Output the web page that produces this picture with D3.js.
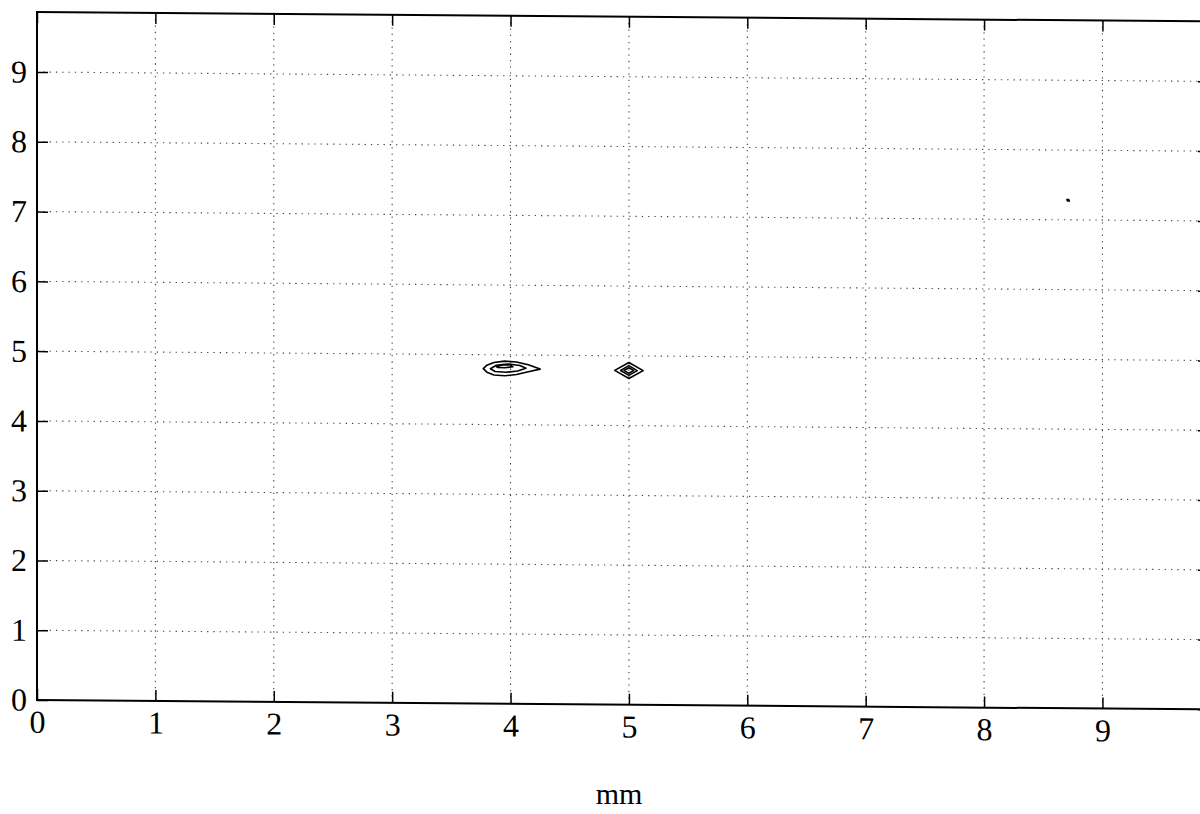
<!DOCTYPE html>
<html>
<head>
<meta charset="utf-8">
<script src="https://cdn.jsdelivr.net/npm/d3@7"></script>
<style>
  html, body { margin: 0; padding: 0; background: #fff; }
  svg { display: block; }
</style>
</head>
<body>
<svg id="chart" width="1200" height="814"></svg>
<script>
(function(){
'use strict';
/* globals d3 */

// axis ticks
var xTicks = [0, 1, 2, 3, 4, 5, 6, 7, 8, 9];
var yTicks = [0, 1, 2, 3, 4, 5, 6, 7, 8, 9];
var xLabel = 'mm';

// contour rings, [x (mm), y]
var blobLeftOuter = [[3.77, 4.80], [3.80, 4.85], [3.86, 4.89], [3.95, 4.91], [4.05, 4.90],
    [4.15, 4.86], [4.25, 4.80], [4.15, 4.76], [4.05, 4.72], [3.95, 4.70], [3.86, 4.71], [3.80, 4.75]];
var blobLeftMid = [[3.83, 4.80], [3.88, 4.85], [3.98, 4.87], [4.08, 4.85], [4.13, 4.81],
    [4.06, 4.77], [3.96, 4.75], [3.87, 4.76]];
var blobLeftInner = [[3.88, 4.83], [3.93, 4.86], [4.00, 4.855], [4.02, 4.83], [3.95, 4.815], [3.89, 4.82]];
var blobRightOuter = [[4.88, 4.79], [5.00, 4.905], [5.12, 4.79], [5.00, 4.675]];
var blobRightMid = [[4.93, 4.79], [5.00, 4.86], [5.07, 4.79], [5.00, 4.72]];
var blobRightInner = [[4.96, 4.79], [5.00, 4.83], [5.04, 4.79], [5.00, 4.75]];
var speck = [[8.70, 7.29], [8.715, 7.29], [8.72, 7.27], [8.705, 7.27]];

var rings = [blobLeftOuter, blobLeftMid, blobLeftInner,
    blobRightOuter, blobRightMid, blobRightInner, speck];

// layout; the scan drifts down to the right, so the plot is sheared a little
var left = 37, bottom = 700, plotW = 1172, plotH = 688;
var skew = 0.46;
var tickLen = 11;
var serif = 'Liberation Serif, Times New Roman, serif';

var x = d3.scaleLinear().domain([0, 9.9]).range([left, left + plotW]);
var y = d3.scaleLinear().domain([0, 9.86]).range([bottom, bottom - plotH]);

var svg = d3.select('#chart');
svg.append('rect').attr('width', 1200).attr('height', 814).attr('fill', '#fff');

var g = svg.append('g')
    .attr('transform', 'translate(' + left + ',' + bottom + ') skewY(' + skew + ') ' +
        'translate(' + (-left) + ',' + (-bottom) + ')');

// dotted grid
var grid = g.append('g')
    .attr('stroke', '#444')
    .attr('stroke-width', 1.1)
    .attr('stroke-dasharray', '1.3,5');
grid.selectAll('line.gx').data(xTicks.filter(function(d){ return d > 0; }))
  .enter().append('line')
    .attr('class', 'gx')
    .attr('x1', function(d){ return x(d); })
    .attr('x2', function(d){ return x(d); })
    .attr('y1', y(0)).attr('y2', y(9.86));
grid.selectAll('line.gy').data(yTicks.filter(function(d){ return d > 0; }))
  .enter().append('line')
    .attr('class', 'gy')
    .attr('y1', function(d){ return y(d); })
    .attr('y2', function(d){ return y(d); })
    .attr('x1', x(0)).attr('x2', x(9.9));

// contours
var line = d3.line()
    .x(function(d){ return x(d[0]); })
    .y(function(d){ return y(d[1]); })
    .curve(d3.curveLinearClosed);
g.append('g').selectAll('path').data(rings)
  .enter().append('path')
    .attr('d', line)
    .attr('fill', 'none')
    .attr('stroke', '#000')
    .attr('stroke-width', 1.6)
    .attr('stroke-linejoin', 'round');

// axes, MATLAB-like: ticks inward on all four sides
var xAxisB = d3.axisBottom(x).tickValues(xTicks).tickSize(-tickLen).tickPadding(10)
    .tickFormat(d3.format('d'));
var xAxisT = d3.axisTop(x).tickValues(xTicks).tickSize(-tickLen).tickFormat('');
var yAxisL = d3.axisLeft(y).tickValues(yTicks).tickSize(-tickLen).tickPadding(10)
    .tickFormat(d3.format('d'));
var yAxisR = d3.axisRight(y).tickValues(yTicks).tickSize(-tickLen).tickFormat('');

function styleAxis(sel){
    sel.selectAll('path.domain').attr('stroke', '#000').attr('stroke-width', 2);
    sel.selectAll('.tick line').attr('stroke', '#000').attr('stroke-width', 1.5);
    sel.selectAll('.tick text')
        .attr('fill', '#000')
        .attr('font-family', serif)
        .attr('font-size', 32);
}

g.append('g').attr('transform', 'translate(0,' + y(0) + ')').call(xAxisB).call(styleAxis);
g.append('g').attr('transform', 'translate(0,' + y(9.86) + ')').call(xAxisT).call(styleAxis);
g.append('g').attr('transform', 'translate(' + x(0) + ',0)').call(yAxisL).call(styleAxis);
g.append('g').attr('transform', 'translate(' + x(9.9) + ',0)').call(yAxisR).call(styleAxis);

// d3 draws outer tick stubs on the domain path; drop them for a plain frame
g.selectAll('path.domain').attr('d', null);
g.append('rect')
    .attr('x', x(0)).attr('y', y(9.86))
    .attr('width', x(9.9) - x(0)).attr('height', y(0) - y(9.86))
    .attr('fill', 'none').attr('stroke', '#000').attr('stroke-width', 2);

// x axis title
svg.append('text')
    .attr('x', 619).attr('y', 804)
    .attr('text-anchor', 'middle')
    .attr('font-family', serif)
    .attr('font-size', 30)
    .text(xLabel);

})();
</script>
</body>
</html>
